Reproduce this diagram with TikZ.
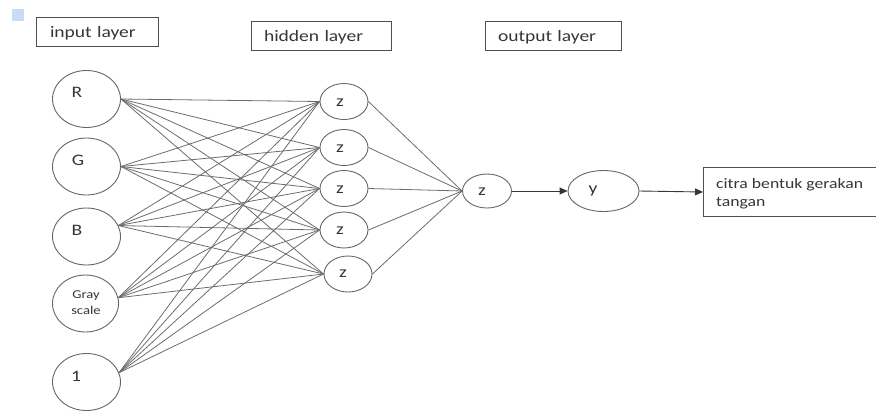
\documentclass[tikz,border=0pt]{standalone}
\usepackage{fontspec}
\setmainfont{Carlito}[FakeStretch=1.22]
\usetikzlibrary{shapes.geometric,arrows.meta}

\definecolor{wirec}{HTML}{6C6C6C}
\definecolor{rimc}{HTML}{666666}
\definecolor{inkc}{HTML}{363636}
\definecolor{framec}{HTML}{505050}
\definecolor{tickc}{HTML}{C8DDF5}

\begin{document}
\begin{tikzpicture}[x=1bp,y=-1bp,
  unit/.style={ellipse,draw=rimc,line width=0.9bp,inner sep=0pt},
  inunit/.style={unit,minimum width=68bp,minimum height=57bp},
  hidunit/.style={unit,minimum width=48bp,minimum height=36bp},
  tag/.style={text=inkc,font=\fontsize{16bp}{18bp}\selectfont,inner sep=0pt},
  smalltag/.style={tag,font=\fontsize{12bp}{16bp}\selectfont,align=center},
  layerbox/.style={draw=framec,line width=1bp,minimum height=29bp,inner xsep=13bp,
    inner ysep=0pt,text depth=0pt,align=left,text=inkc,font=\fontsize{16bp}{18bp}\selectfont},
  wire/.style={draw=wirec,line width=0.8bp},
  flow/.style={draw=inkc,line width=0.9bp,-{Triangle[length=8bp,width=7bp]}}
]
\clip (0,0) rectangle (876,411);

% small marker in the corner
\fill[tickc] (12,9) rectangle (24,21);

% layer titles
\node[layerbox,text width=95bp]  (lin)  at (97.5,31.5) {input layer};
\node[layerbox,text width=114bp] (lhid) at (321,35.5)  {hidden layer};
\node[layerbox,text width=110bp] (lout) at (553,35.5)  {output layer};

% input units
\node[inunit] (inR)    at (86.5,99)  {};
\node[inunit] (inG)    at (86.5,166.5) {};
\node[inunit] (inB)    at (86.5,236.5) {};
\node[inunit,minimum width=66bp] (inGray) at (85.5,303.5) {};
\node[inunit] (inOne)  at (86.5,382) {};
\node[tag] (tR) at (77,92)  {R};
\node[tag] (tG) at (78,160) {G};
\node[tag] (tB) at (77,230) {B};
\node[smalltag] (tGray) at (86,303) {Gray\\scale};
\node[tag] (tOne) at (76,376) {1};

% hidden units
\node[hidunit] (h1) at (344,101.5) {};
\node[hidunit] (h2) at (344,147.5) {};
\node[hidunit] (h3) at (344,188.5) {};
\node[hidunit] (h4) at (344,230)   {};
\node[hidunit] (h5) at (348,274)   {};
\node[tag] (th1) at (340,103) {z};
\node[tag] (th2) at (340,149) {z};
\node[tag] (th3) at (340,190) {z};
\node[tag] (th4) at (340,231) {z};
\node[tag] (th5) at (343,274) {z};

% output unit, activation and result
\node[unit,minimum width=49bp,minimum height=34bp] (out) at (487,191) {};
\node[tag] (tout) at (482,192) {z};
\node[unit,minimum width=71bp,minimum height=41bp] (yy) at (603.5,191) {};
\node[tag] (tyy) at (593,191) {y};
\node[draw=framec,line width=1bp,anchor=north west,minimum height=49bp,
  minimum width=190bp,inner sep=0pt] (res) at (703,167) {};
\node[tag,anchor=north west,align=left,font=\fontsize{14.5bp}{18bp}\selectfont]
  (tres) at (716,178.5) {citra bentuk gerakan\\tangan};

% fully connected weights
\foreach \a in {inR.east,inG.east,inB.19,inGray.10,inOne.16}
  \foreach \b in {h1,h2,h3,h4,h5}
    \draw[wire] (\a) -- (\b.west);
\foreach \b in {h1,h2,h3,h4,h5}
  \draw[wire] (\b.east) -- (out.west);

% forward flow
\draw[flow] (out.east) -- (yy.west);
\draw[flow] (yy.east) -- (res.west);
\end{tikzpicture}
\end{document}
